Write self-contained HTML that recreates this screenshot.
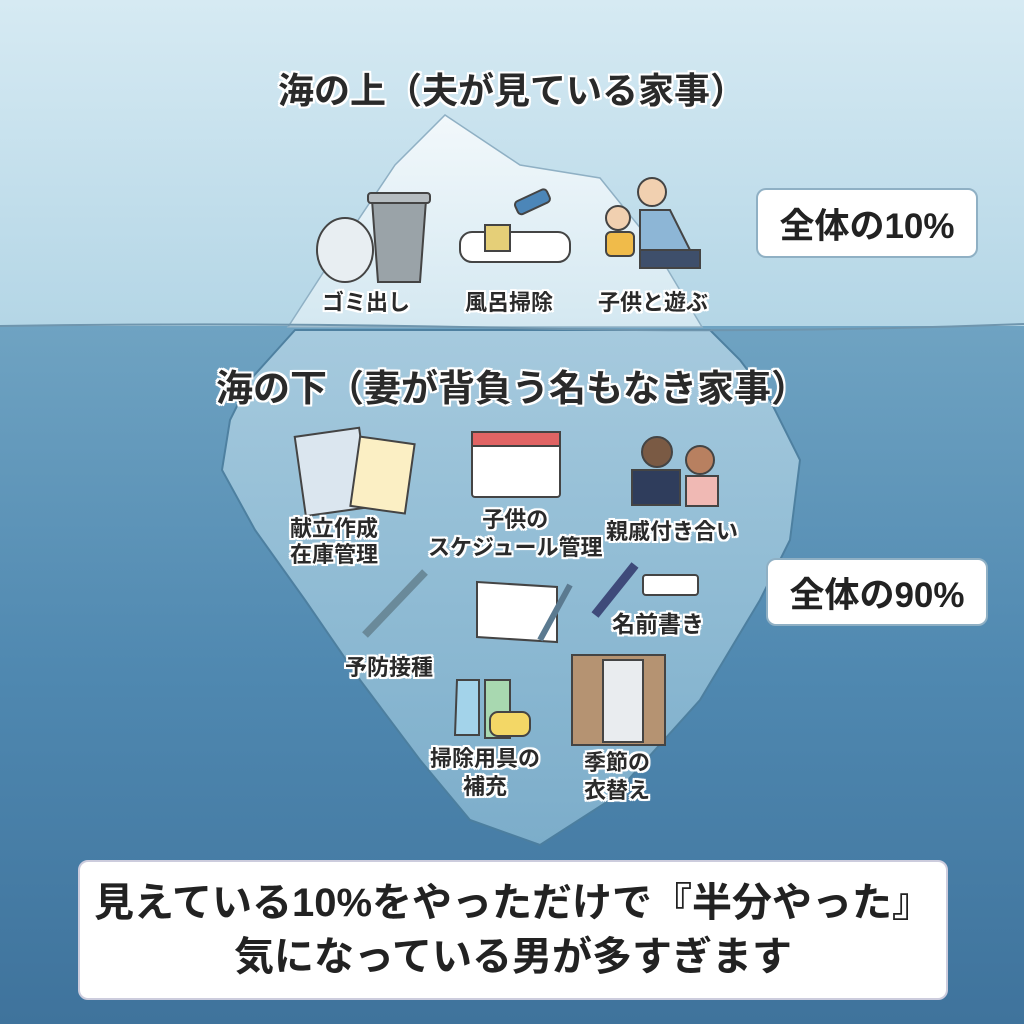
<!DOCTYPE html>
<html><head><meta charset="utf-8">
<style>
html,body{margin:0;padding:0;}
body{width:1024px;height:1024px;position:relative;overflow:hidden;font-family:"Liberation Sans","Noto Sans CJK JP",sans-serif;}
svg{position:absolute;left:0;top:0;}
.t{position:absolute;font-weight:bold;color:#2a2a2a;white-space:nowrap;text-align:center;
text-shadow:0 0 3px #fff,0 0 3px #fff,2px 0 0 #fff,-2px 0 0 #fff,0 2px 0 #fff,0 -2px 0 #fff,2px 2px 0 #fff,-2px -2px 0 #fff,2px -2px 0 #fff,-2px 2px 0 #fff;}
.box{position:absolute;background:#fff;border:2px solid #8fb0c4;border-radius:10px;font-weight:bold;color:#222;display:flex;align-items:center;justify-content:center;}
</style></head><body>
<svg width="1024" height="1024" viewBox="0 0 1024 1024">
<defs>
<linearGradient id="sky" x1="0" y1="0" x2="0" y2="1"><stop offset="0" stop-color="#d6eaf3"/><stop offset="1" stop-color="#b4d6e6"/></linearGradient>
<linearGradient id="sea" x1="0" y1="0" x2="0" y2="1"><stop offset="0" stop-color="#6fa3c2"/><stop offset="0.5" stop-color="#4f88b0"/><stop offset="1" stop-color="#3f739c"/></linearGradient>
<linearGradient id="ice" x1="0" y1="0" x2="0" y2="1"><stop offset="0" stop-color="#f2f8fb"/><stop offset="1" stop-color="#d4e8f1"/></linearGradient>
<linearGradient id="under" x1="0" y1="0" x2="0" y2="1"><stop offset="0" stop-color="#a9cde0"/><stop offset="1" stop-color="#7fb0cc"/></linearGradient>
</defs>
<rect width="1024" height="326" fill="url(#sky)"/>
<rect y="326" width="1024" height="698" fill="url(#sea)"/>
<polygon points="295,330 250,380 230,420 222,470 255,530 305,600 360,680 420,760 470,820 540,845 610,800 700,700 760,600 790,540 800,460 770,400 740,360 710,330" fill="url(#under)" stroke="#4d7f9f" stroke-width="2" opacity="0.95"/>
<polygon points="288,327 330,262 395,165 445,115 520,165 600,178 650,240 702,327" fill="url(#ice)" stroke="#8fb0c4" stroke-width="1.5"/>
<path d="M0,326 Q256,322 512,328 T1024,324" stroke="#6f95ad" stroke-width="2" fill="none"/>
<g stroke="#444" stroke-width="2">
<ellipse cx="345" cy="250" rx="28" ry="32" fill="#e8eef2"/>
<path d="M372,200 h54 l-6,82 h-42 z" fill="#9aa3a8"/><rect x="368" y="193" width="62" height="10" rx="3" fill="#b5bcc0"/>
<rect x="460" y="232" width="110" height="30" rx="12" fill="#fff"/>
<rect x="485" y="225" width="25" height="26" fill="#e5cf78"/>
<rect x="515" y="195" width="35" height="14" rx="4" fill="#4c86b8" transform="rotate(-25 532 202)"/>
<circle cx="652" cy="192" r="14" fill="#f1d0b0"/><path d="M640,210 h30 l20,40 h-50 z" fill="#8db6d6"/><path d="M640,250 h60 v18 h-60z" fill="#3e4f6b"/>
<circle cx="618" cy="218" r="12" fill="#f1d0b0"/><rect x="606" y="232" width="28" height="24" rx="5" fill="#f0bb4a"/>
</g>
<g stroke="#444" stroke-width="2">
<rect x="300" y="432" width="65" height="80" fill="#dbe6ef" transform="rotate(-8 332 472)"/>
<rect x="355" y="440" width="55" height="70" fill="#fbefc4" transform="rotate(8 382 475)"/>
<rect x="472" y="432" width="88" height="65" rx="3" fill="#fff"/><rect x="472" y="432" width="88" height="14" fill="#e06464"/>
<circle cx="657" cy="452" r="15" fill="#7a5a44"/><path d="M632,470 h48 v35 h-48z" fill="#2f3d5c"/>
<circle cx="700" cy="460" r="14" fill="#b88060"/><path d="M686,476 h32 v30 h-32z" fill="#f0b9b4"/>
<line x1="365" y1="635" x2="425" y2="572" stroke-width="8" stroke="#6a8a9a"/>
<path d="M477,582 l80,5 v55 l-80,-5z" fill="#fff"/>
<line x1="540" y1="640" x2="570" y2="585" stroke-width="6" stroke="#5b7a90"/>
<line x1="595" y1="615" x2="635" y2="565" stroke-width="9" stroke="#3e4a7a"/>
<rect x="643" y="575" width="55" height="20" rx="3" fill="#fff"/>
<path d="M457,680 h22 v55 h-24z" fill="#a3d3ea"/><path d="M485,680 h25 v58 h-25z" fill="#a8d8b0"/>
<rect x="490" y="712" width="40" height="24" rx="8" fill="#f3d766"/>
<rect x="572" y="655" width="93" height="90" fill="#b59372"/><rect x="603" y="660" width="40" height="82" fill="#e9ecef"/>
</g>
</svg>
<div class="t" style="left:0;width:1024px;top:62px;font-size:36px;">海の上（夫が見ている家事）</div>
<div class="t" style="left:0;width:1024px;top:358px;font-size:37px;">海の下（妻が背負う名もなき家事）</div>
<div class="t" style="left:322px;top:285px;font-size:22px;">ゴミ出し</div>
<div class="t" style="left:465px;top:285px;font-size:22px;">風呂掃除</div>
<div class="t" style="left:598px;top:285px;font-size:22px;">子供と遊ぶ</div>
<div class="t" style="left:290px;top:516px;font-size:22px;line-height:26px;">献立作成<br>在庫管理</div>
<div class="t" style="left:428px;top:506px;font-size:22px;line-height:28px;">子供の<br>スケジュール管理</div>
<div class="t" style="left:606px;top:514px;font-size:22px;">親戚付き合い</div>
<div class="t" style="left:612px;top:605px;font-size:23px;">名前書き</div>
<div class="t" style="left:345px;top:650px;font-size:22px;">予防接種</div>
<div class="t" style="left:430px;top:745px;font-size:22px;line-height:28px;">掃除用具の<br>補充</div>
<div class="t" style="left:584px;top:749px;font-size:22px;line-height:28px;">季節の<br>衣替え</div>
<div class="box" style="left:756px;top:188px;width:218px;height:66px;font-size:35px;">全体の10%</div>
<div class="box" style="left:766px;top:558px;width:218px;height:64px;font-size:35px;">全体の90%</div>
<div class="box" style="left:78px;top:860px;width:866px;height:136px;border-color:#ccd;font-size:40px;line-height:54px;flex-direction:column;">
<div>見えている10%をやっただけで『半分やった』</div><div>気になっている男が多すぎます</div></div>
</body></html>
